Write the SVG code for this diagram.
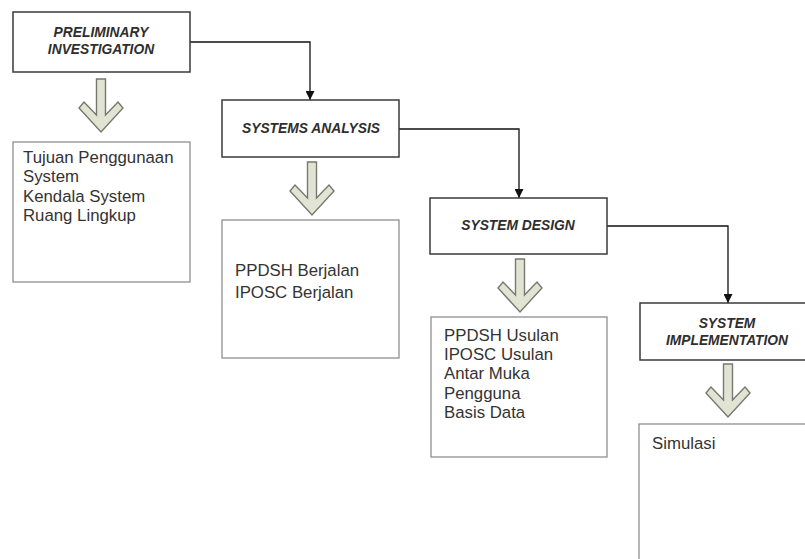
<svg xmlns="http://www.w3.org/2000/svg" width="805" height="559" viewBox="0 0 805 559">
<style>
.main{fill:#fff;stroke:#3a3a3a;stroke-width:1.5}
.sub{fill:#fff;stroke:#8f8f8f;stroke-width:1.3}
.mt{font-family:"Liberation Sans",Arial,sans-serif;font-size:13.8px;font-weight:bold;font-style:italic;fill:#2e2e2e;text-anchor:middle}
.st{font-family:"Liberation Sans",Arial,sans-serif;font-size:16.8px;fill:#333}
.con{fill:none;stroke:#111;stroke-width:1.3}
.fat{fill:#e2e4d3;stroke:#77786e;stroke-width:1.4;stroke-linejoin:miter}
</style>
<defs>
<marker id="ah" viewBox="0 0 10 10" refX="10" refY="5" markerWidth="9" markerHeight="9" markerUnits="userSpaceOnUse" orient="auto">
<path d="M0,0 L10,5 L0,10 z" fill="#111"/>
</marker>
<polygon id="fat" class="fat" points="-4.5,0 4.5,0 4.5,36 17,23 22,29 0,53 -22,29 -17,23 -4.5,36"/>
</defs>
<rect width="805" height="559" fill="#fff"/>
<g id="connectors">
<path class="con" d="M190,42 H310 V100" marker-end="url(#ah)"/>
<path class="con" d="M399,129 H519 V198" marker-end="url(#ah)"/>
<path class="con" d="M607,226 H728 V303" marker-end="url(#ah)"/>
</g>
<g id="fat-arrows">
<use href="#fat" x="101" y="79"/>
<use href="#fat" x="312" y="162"/>
<use href="#fat" x="520" y="259"/>
<use href="#fat" x="728" y="364"/>
</g>
<g id="preliminary">
<rect class="main" x="13" y="12" width="177" height="60"/>
<text class="mt" x="101" y="37">PRELIMINARY</text>
<text class="mt" x="101" y="54">INVESTIGATION</text>
</g>
<g id="preliminary-out">
<rect class="sub" x="13" y="142" width="177" height="140"/>
<text class="st" x="23" y="163">Tujuan Penggunaan</text>
<text class="st" x="23" y="182">System</text>
<text class="st" x="23" y="202">Kendala System</text>
<text class="st" x="23" y="221">Ruang Lingkup</text>
</g>
<g id="analysis">
<rect class="main" x="222" y="100" width="177" height="57"/>
<text class="mt" x="311" y="133">SYSTEMS ANALYSIS</text>
</g>
<g id="analysis-out">
<rect class="sub" x="222" y="220" width="177" height="138"/>
<text class="st" x="235" y="276">PPDSH Berjalan</text>
<text class="st" x="235" y="298">IPOSC Berjalan</text>
</g>
<g id="design">
<rect class="main" x="430" y="198" width="177" height="56"/>
<text class="mt" x="518" y="230">SYSTEM DESIGN</text>
</g>
<g id="design-out">
<rect class="sub" x="431" y="317" width="176" height="140"/>
<text class="st" x="444" y="341">PPDSH Usulan</text>
<text class="st" x="444" y="360">IPOSC Usulan</text>
<text class="st" x="444" y="379">Antar Muka</text>
<text class="st" x="444" y="399">Pengguna</text>
<text class="st" x="444" y="418">Basis Data</text>
</g>
<g id="implementation">
<rect class="main" x="640" y="303" width="176" height="57"/>
<text class="mt" x="727" y="328">SYSTEM</text>
<text class="mt" x="727" y="345">IMPLEMENTATION</text>
</g>
<g id="implementation-out">
<rect class="sub" x="639" y="424" width="178" height="150"/>
<text class="st" x="652" y="449">Simulasi</text>
</g>
</svg>
